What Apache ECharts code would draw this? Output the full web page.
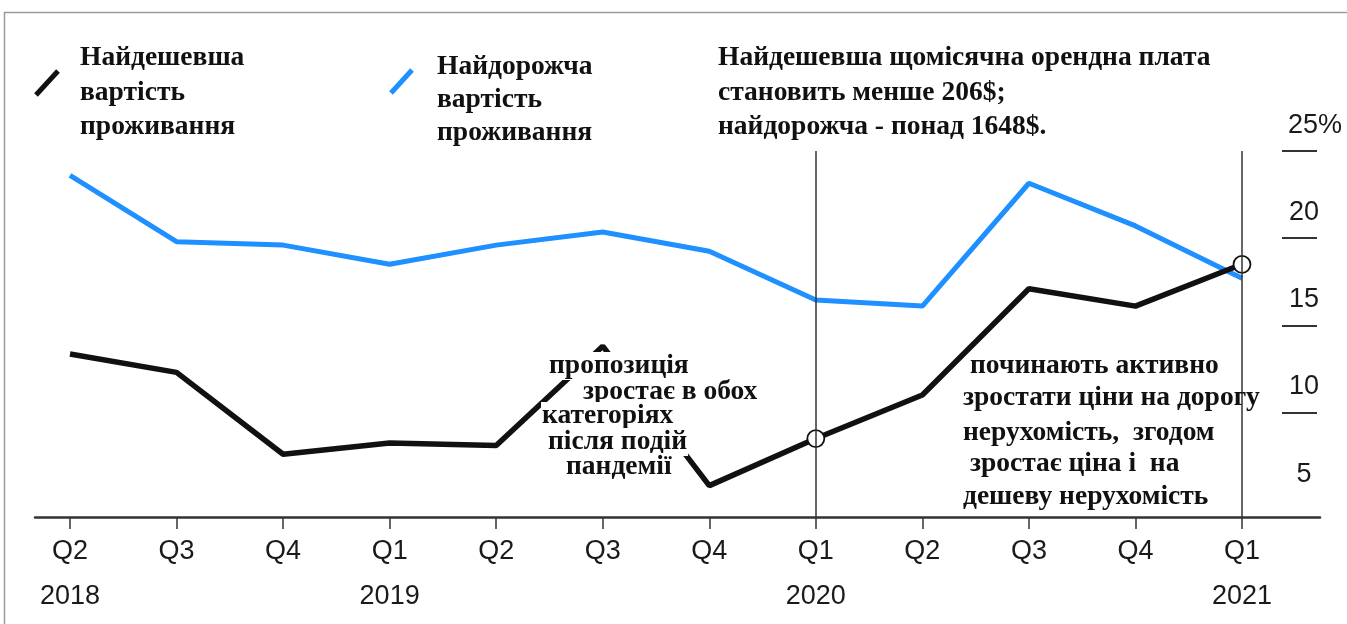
<!DOCTYPE html>
<html>
<head>
<meta charset="utf-8">
<script src="https://cdn.jsdelivr.net/npm/echarts@6/dist/echarts.min.js"></script>
<style>
html,body{margin:0;padding:0;background:#fff;}
#chart{width:1347px;height:624px;}
</style>
</head>
<body>
<div id="chart"></div>
<script>
// ---- data ----
const quarters = ['Q2','Q3','Q4','Q1','Q2','Q3','Q4','Q1','Q2','Q3','Q4','Q1'];
const years    = ['2018','','','2019','','','','2020','','','','2021'];
const cheapest = [13.35, 12.3, 7.6, 8.25, 8.1, 13.8, 5.8, 8.5, 11.0, 17.1, 16.1, 18.5];
const priciest = [23.6, 19.8, 19.6, 18.5, 19.6, 20.35, 19.25, 16.45, 16.1, 23.15, 20.7, 17.7];
const markedIdx = [7, 11];          // quarters with vertical marker lines and circles
const yLabelValues = [5, 10, 15, 20, 25];
const yTickValues = [10, 15, 20, 25];
const legendCheap = 'Найдешевша\nвартість\nпроживання';
const legendDear = 'Найдорожча\nвартість\nпроживання';
const noteTop = 'Найдешевша щомісячна орендна плата\nстановить менше 206$;\nнайдорожча - понад 1648$.';
const noteMid = ['пропозиція', 'зростає в обох', 'категоріях', 'після подій', 'пандемії'];
const noteRight = ['починають активно', 'зростати ціни на дорогу', 'нерухомість,  згодом', ' зростає ціна і  на', 'дешеву нерухомість'];

const categories = quarters.map((q, i) => years[i] ? q + '\n' + years[i] : q);

const serifBold = 'bold 27.5px "Liberation Serif", "DejaVu Serif", serif';
const sans = '"Liberation Sans", Arial, sans-serif';

const chart = echarts.init(document.getElementById('chart'), null, {renderer: 'canvas'});

const cheapData = cheapest.map((v, i) => markedIdx.includes(i) ? {
  value: v, symbol: 'circle', symbolSize: 17,
  itemStyle: {color: '#fff', borderColor: '#111', borderWidth: 1.8}
} : v);

const midY = [366, 392, 416, 442, 467];
const midX = [548, 582, 541, 547, 565];
const rightY = [366, 398, 433, 464, 497];
const rightX = [970, 963, 963, 963, 963];

const graphic = [
  {type: 'rect', shape: {x: 4.5, y: 12.5, width: 1400, height: 700}, style: {fill: 'none', stroke: '#9a9a9a', lineWidth: 1.5}, silent: true, z: -10},
  {type: 'line', shape: {x1: 36, y1: 95, x2: 58, y2: 71}, style: {stroke: '#111', lineWidth: 5}},
  {type: 'line', shape: {x1: 391, y1: 93, x2: 412, y2: 70}, style: {stroke: '#1e90ff', lineWidth: 5}},
  {type: 'text', x: 80, y: 41, style: {text: legendCheap, font: serifBold, fill: '#111', lineHeight: 34.5, verticalAlign: 'top'}},
  {type: 'text', x: 437, y: 50, style: {text: legendDear, font: serifBold, fill: '#111', lineHeight: 33, verticalAlign: 'top'}},
  {type: 'text', x: 718, y: 41, style: {text: noteTop, font: serifBold, fill: '#111', lineHeight: 34.5, verticalAlign: 'top'}}
];
noteMid.forEach((t, i) => graphic.push({
  type: 'text', x: midX[i], y: midY[i], z: 100,
  style: {text: t, font: serifBold, fill: '#111', verticalAlign: 'middle', backgroundColor: '#fff', padding: [0, 1]}
}));
noteRight.forEach((t, i) => graphic.push({
  type: 'text', x: rightX[i], y: rightY[i], z: 100,
  style: {text: t, font: serifBold, fill: '#111', verticalAlign: 'middle'}
}));

const option = {
  animation: false,
  backgroundColor: '#fff',
  grid: [
    {left: 70, right: 105, top: 151, bottom: 107},
    {left: 35, right: 27, top: 151, bottom: 107}
  ],
  xAxis: [
    {
      type: 'category', gridIndex: 0, data: categories, boundaryGap: false,
      axisLine: {show: false},
      axisTick: {show: true, length: 12, lineStyle: {color: '#333', width: 1.5}},
      axisLabel: {fontFamily: sans, fontSize: 27, color: '#1a1a1a', lineHeight: 45, margin: 12, interval: 0},
      splitLine: {show: false}
    },
    {
      type: 'value', gridIndex: 1, min: 0, max: 1,
      axisLine: {show: true, onZero: false, lineStyle: {color: '#333', width: 2.5}},
      axisTick: {show: false}, axisLabel: {show: false}, splitLine: {show: false}
    }
  ],
  yAxis: [
    {
      type: 'value', gridIndex: 0, position: 'right', offset: 40, min: 4, max: 25,
      axisLine: {show: false}, splitLine: {show: false},
      axisTick: {show: true, length: 35, customValues: yTickValues, lineStyle: {color: '#333', width: 2}},
      axisLabel: {
        customValues: yLabelValues,
        formatter: v => v === 25 ? '{p|' + v + '%}' : String(v),
        rich: {p: {fontFamily: sans, fontSize: 27, color: '#1a1a1a', padding: [0, 0, 0, 22]}},
        fontFamily: sans, fontSize: 27, color: '#1a1a1a',
        margin: 22, align: 'center', verticalAlign: 'bottom', padding: [0, 0, 12, 0]
      }
    },
    {type: 'value', gridIndex: 1, show: false, min: 0, max: 1}
  ],
  series: [
    {
      name: 'Найдорожча вартість проживання', type: 'line', xAxisIndex: 0, yAxisIndex: 0,
      data: priciest, symbol: 'none', color: '#1e90ff',
      lineStyle: {color: '#1e90ff', width: 5}, z: 2
    },
    {
      name: 'Найдешевша вартість проживання', type: 'line', xAxisIndex: 0, yAxisIndex: 0,
      data: cheapData, symbol: 'none', showSymbol: true, color: '#111',
      lineStyle: {color: '#111', width: 5.5}, z: 3,
      markLine: {
        silent: true, symbol: 'none', label: {show: false},
        lineStyle: {color: '#333', width: 1.5, type: 'solid'},
        data: markedIdx.map(i => ({xAxis: i}))
      }
    }
  ],
  graphic: graphic
};
chart.setOption(option);
</script>
</body>
</html>
